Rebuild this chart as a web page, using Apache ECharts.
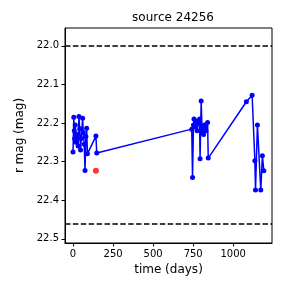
<!DOCTYPE html>
<html><head><meta charset="utf-8">
<script src="https://cdn.jsdelivr.net/npm/echarts@6/dist/echarts.min.js"></script>
<style>html,body{margin:0;padding:0;background:#fff}#c{width:288px;height:288px}</style>
</head><body><div id="c"></div>
<script>
const titleText = "source 24256";
const xName = "time (days)";
const yName = "r mag (mag)";
const days = [0,5,8,10,14,18,25,32,37,42,47,52,60,64,70,75,80,85,90,143,148,
  741,746,752,755,760,768,775,782,790,793,800,805,810,815,820,830,840,844,
  1082,1118,1135,1139,1151,1172,1182,1191];
const mags = [22.275,22.185,22.22,22.24,22.205,22.25,22.23,22.26,22.183,22.215,22.27,22.24,22.188,22.225,22.255,22.323,22.235,22.214,22.28,22.234,22.278,
  22.216,22.341,22.205,22.19,22.21,22.195,22.22,22.20,22.19,22.293,22.143,22.215,22.225,22.23,22.205,22.22,22.199,22.291,
  22.145,22.128,22.298,22.374,22.205,22.374,22.285,22.324];
const redDays = [143];
const redMags = [22.324];
const refLines = [22.0, 22.46];
const xTicks = [0,250,500,750,1000];
const yTicks = [22.0,22.1,22.2,22.3,22.4,22.5];

const lineData = days.map((d,i)=>[d,mags[i]]);
const redData = redDays.map((d,i)=>[d,redMags[i]]);
const font = "DejaVu Sans";
const chart = echarts.init(document.getElementById('c'), null, {renderer:'canvas'});
chart.setOption({
  animation:false,
  backgroundColor:'#fff',
  title:{text:titleText,left:168,top:7,textAlign:'center',textStyle:{fontFamily:font,fontSize:12,fontWeight:'normal',color:'#000'}},
  grid:{left:65,right:16,top:28,bottom:45,show:true,borderColor:'#000',borderWidth:1,containLabel:false},
  xAxis:{type:'value',min:-50,max:1242,name:xName,nameLocation:'middle',nameGap:18,
    nameTextStyle:{fontFamily:font,fontSize:12,color:'#000'},
    axisLine:{show:true,onZero:false,lineStyle:{color:'#000',width:1}},
    axisTick:{show:true,length:3.5,inside:false,customValues:xTicks,lineStyle:{color:'#000'}},
    axisLabel:{customValues:xTicks,margin:6,fontFamily:font,fontSize:10,color:'#000',formatter:v=>String(v)},
    splitLine:{show:false}},
  yAxis:{type:'value',inverse:true,min:21.954,max:22.511,name:yName,nameLocation:'middle',nameGap:33,nameRotate:90,
    nameTextStyle:{fontFamily:font,fontSize:12,color:'#000'},
    axisLine:{show:true,onZero:false,lineStyle:{color:'#000',width:1}},
    axisTick:{show:true,length:3.5,inside:false,customValues:yTicks,lineStyle:{color:'#000'}},
    axisLabel:{customValues:yTicks,margin:6,fontFamily:font,fontSize:10,color:'#000',formatter:v=>v.toFixed(1)},
    splitLine:{show:false}},
  series:[
    {type:'line',data:lineData,symbol:'circle',symbolSize:5,showSymbol:true,showAllSymbol:true,
     itemStyle:{color:'#0000ff'},lineStyle:{color:'#0000ff',width:1.5},z:3,
     markLine:{silent:true,symbol:['none','none'],label:{show:false},
       lineStyle:{color:'#000',type:[5.5,2.4],width:1.5},
       data:refLines.map(v=>({yAxis:v}))}},
    {type:'scatter',data:redData,symbol:'circle',symbolSize:6,itemStyle:{color:'#ff0000'},z:4}
  ]
});
</script></body></html>
